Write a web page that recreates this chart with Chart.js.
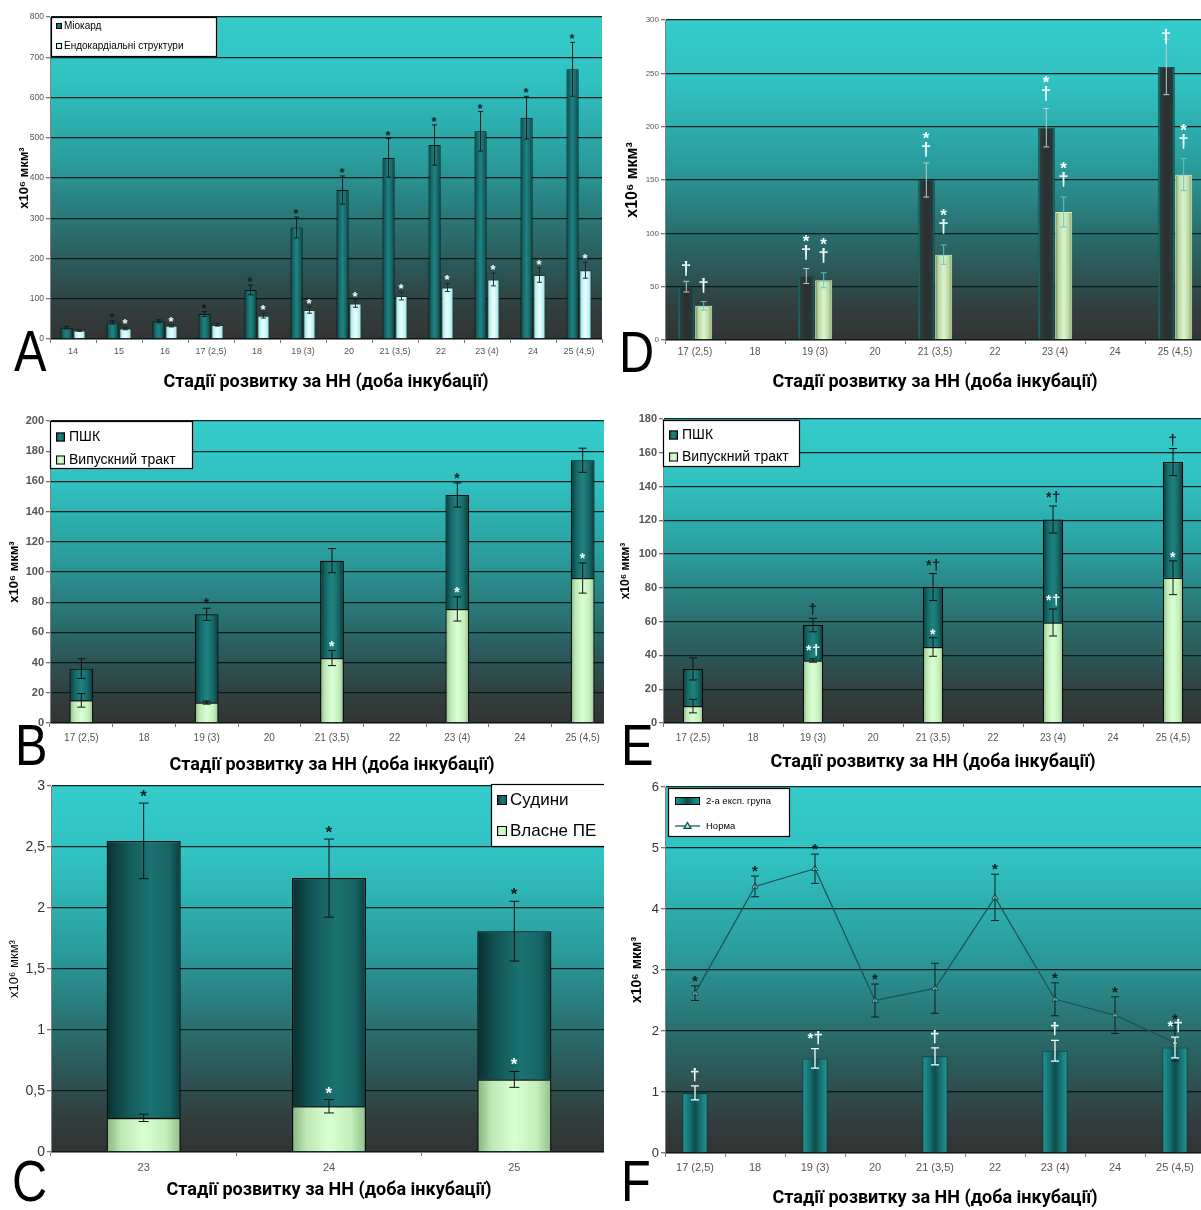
<!DOCTYPE html>
<html><head><meta charset="utf-8">
<script src="https://cdn.jsdelivr.net/npm/chart.js@4.4.1/dist/chart.umd.min.js"></script>
<style>
html,body{margin:0;padding:0;background:#fff;}
body{width:1201px;height:1210px;position:relative;overflow:hidden;}
.panel{position:absolute;overflow:hidden;}
.panel canvas{position:absolute;left:0;top:0;}
.letter{position:absolute;font-family:'Liberation Sans',Arial,sans-serif;font-size:58px;line-height:58px;color:#000;transform:scaleX(0.84);transform-origin:left top;}
</style></head><body>
<div class="panel" id="pA" style="left:0;top:0;width:604px;height:398px"><canvas id="cA" width="604" height="398"></canvas></div>
<div class="panel" id="pD" style="left:604px;top:0;width:597px;height:398px"><canvas id="cD" width="604" height="398"></canvas></div>
<div class="panel" id="pB" style="left:0;top:398px;width:604px;height:382px"><canvas id="cB" width="616" height="382"></canvas></div>
<div class="panel" id="pE" style="left:604px;top:398px;width:597px;height:382px"><canvas id="cE" width="604" height="382"></canvas></div>
<div class="panel" id="pC" style="left:0;top:770px;width:604px;height:440px"><canvas id="cC" width="610" height="440"></canvas></div>
<div class="panel" id="pF" style="left:604px;top:770px;width:597px;height:440px"><canvas id="cF" width="606" height="440"></canvas></div>
<div class="letter" style="left:14px;top:322px">A</div>
<div class="letter" style="left:619px;top:323px">D</div>
<div class="letter" style="left:15px;top:716px">B</div>
<div class="letter" style="left:621px;top:716px">E</div>
<div class="letter" style="left:12px;top:1152px">C</div>
<div class="letter" style="left:621px;top:1152px">F</div>
<script>
const NARROW = "'Liberation Sans Narrow','Liberation Sans',Arial,sans-serif";
const SANS = "'Liberation Sans',Arial,sans-serif";
const TITLE_FONT = "Roboto,'Liberation Sans',Arial,sans-serif";
const X_TITLE = 'Стадії розвитку за НН (доба інкубації)';
const Y_TITLE = 'x10⁶ мкм³';

// ---------- categories ----------
const catsA = ['14','15','16','17 (2,5)','18','19 (3)','20','21 (3,5)','22','23 (4)','24','25 (4,5)'];
const catsStage = ['17 (2,5)','18','19 (3)','20','21 (3,5)','22','23 (4)','24','25 (4,5)'];
const catsC = ['23','24','25'];
const yTicksC = ['0','0,5','1','1,5','2','2,5','3'];

// ---------- panel A ----------
const myocard     = [28, 41, 44, 62, 122, 277, 370, 450, 482, 516, 550, 670];
const myocardErr  = [3, 4, 4, 6, 12, 26, 35, 48, 50, 49, 53, 67];
const myocardMark = ['', '*', '', '*', '*', '*', '*', '*', '*', '*', '*', '*'];
const endo        = [21, 26, 33, 35, 58, 72, 88, 107, 128, 148, 159, 171];
const endoErr     = [2, 3, 3, 3, 6, 8, 9, 10, 10, 16, 18, 20];
const endoMark    = ['', '*', '*', '', '*', '*', '*', '*', '*', '*', '*', '*'];

// ---------- panel D ----------
const dDark      = [50, null, 60, null, 150, null, 199, null, 256];
const dDarkErr   = [5, null, 7, null, 16, null, 18, null, 26];
const dDarkMark  = ['†', '', '*†', '', '*†', '', '*†', '', '†'];
const dLight     = [32, null, 56, null, 80, null, 120, null, 155];
const dLightErr  = [4, null, 7, null, 9, null, 14, null, 15];
const dLightMark = ['†', '', '*†', '', '*†', '', '*†', '', '*†'];

// ---------- panel B ----------
const bOut      = [15, null, 13.5, null, 43, null, 75.5, null, 96];
const bOutErr   = [4.5, null, 1, null, 5, null, 8, null, 10];
const bOutMark  = ['', '', '', '', '*', '', '*', '', '*'];
const bPsk      = [21, null, 58.5, null, 64.5, null, 75.5, null, 78];
const bPskErr   = [6.5, null, 4, null, 8, null, 8, null, 8];
const bPskMark  = ['', '', '*', '', '', '', '*', '', ''];

// ---------- panel E ----------
const eOut      = [10, null, 37, null, 45, null, 59.5, null, 86];
const eOutErr   = [4, null, 1, null, 5.5, null, 8, null, 10];
const eOutMark  = ['', '', '*†', '', '*', '', '*†', '', '*'];
const ePsk      = [22, null, 21, null, 35.5, null, 61, null, 68.5];
const ePskErr   = [6.5, null, 4, null, 8, null, 8, null, 8];
const ePskMark  = ['', '', '†', '', '*†', '', '*†', '', '†'];

// ---------- panel C ----------
const cOwn       = [0.28, 0.375, 0.595];
const cOwnErr    = [0.03, 0.055, 0.065];
const cOwnMark   = ['', '*', '*'];
const cVessels   = [2.27, 1.87, 1.215];
const cVesselsErr= [0.31, 0.32, 0.245];
const cVesselsMark=['*', '*', '*'];

// ---------- panel F ----------
const fGroup     = [0.985, null, 1.55, null, 1.585, null, 1.675, null, 1.73];
const fGroupErr  = [0.115, null, 0.16, null, 0.14, null, 0.17, null, 0.17];
const fGroupMark = ['†', '', '*†', '', '†', '', '†', '', '*†'];
const fNorm      = [2.62, 4.37, 4.66, 2.50, 2.70, 4.19, 2.52, 2.26, 1.81];
const fNormErr   = [0.12, 0.17, 0.24, 0.27, 0.41, 0.38, 0.27, 0.30, 0.30];
const fNormMark  = ['*', '*', '*', '*', '', '*', '*', '*', '*'];

// ---------- styles ----------
const G_TEAL  = [[0,'#0a3a3a'],[0.25,'#176a6a'],[0.5,'#1f8282'],[0.75,'#176a6a'],[1,'#0a3a3a']];
const G_CYAN  = [[0,'#8fd6d6'],[0.3,'#cdf7f7'],[0.5,'#e6ffff'],[0.7,'#cdf7f7'],[1,'#8fd6d6']];
const G_GREEN = [[0,'#86b47e'],[0.2,'#bfe8b6'],[0.5,'#d8ffd2'],[0.8,'#c4eebc'],[1,'#8fbf88']];
const G_DDARK = [[0,'#1c9292'],[0.18,'#273a3a'],[0.5,'#2c2e2e'],[0.85,'#263a3a'],[1,'#1a7a7a']];
const G_DLIGHT= [[0,'#7f9e6e'],[0.2,'#b9d8a4'],[0.5,'#dcf5c8'],[0.8,'#b9d8a4'],[1,'#7f9e6e']];
const G_VESS  = [[0,'#0a3030'],[0.3,'#145a5a'],[0.6,'#1b7272'],[0.85,'#176464'],[1,'#0c3c3c']];
const G_FBAR  = [[0,'#1f9a9a'],[0.3,'#15706f'],[0.5,'#0f4c4c'],[0.7,'#15706f'],[1,'#1f9a9a']];
const BG_STOPS = [[0,'#35cccc'],[0.2,'#31c1c1'],[0.45,'#2a9c9c'],[0.7,'#2a6767'],[0.9,'#313f3f'],[1,'#333333']];

// ---------- plugins ----------
const bgPlugin = {
  id:'bgGrad',
  beforeDraw(chart){
    const {ctx, chartArea:a} = chart;
    const g = ctx.createLinearGradient(0,a.top,0,a.bottom);
    BG_STOPS.forEach(([o,c])=>g.addColorStop(o,c));
    ctx.save(); ctx.fillStyle=g; ctx.fillRect(a.left,a.top,a.right-a.left,a.bottom-a.top); ctx.restore();
  }
};
const barGradPlugin = {
  id:'barGrad',
  beforeDatasetsDraw(chart){
    const ctx = chart.ctx;
    chart.data.datasets.forEach((ds,di)=>{
      if(!ds.gradStops) return;
      const meta = chart.getDatasetMeta(di);
      meta.data.forEach(el=>{
        if(!el || !isFinite(el.x) || !isFinite(el.y) || !isFinite(el.width)) return;
        const g = ctx.createLinearGradient(el.x-el.width/2,0,el.x+el.width/2,0);
        ds.gradStops.forEach(([o,c])=>g.addColorStop(o,c));
        el.options = Object.assign({}, el.options, {backgroundColor:g, $shared:false});
      });
    });
  }
};
function glyphFont(c, sizes){ return 'bold ' + (c==='†'?sizes.dagger:sizes.star) + 'px ' + SANS; }
function drawMarks(ctx, x, yBottom, str, color, sizes, layout){
  const chars = [...str]; if(!chars.length) return;
  ctx.fillStyle = color; ctx.textAlign='left'; ctx.textBaseline='alphabetic';
  const ms = chars.map(c=>{ ctx.font = glyphFont(c,sizes); const m = ctx.measureText(c);
    return {c, font:ctx.font, w:m.width, l:m.actualBoundingBoxLeft, r:m.actualBoundingBoxRight, asc:m.actualBoundingBoxAscent, desc:m.actualBoundingBoxDescent}; });
  if(layout==='stack'){
    let yb = yBottom;
    for(let k=ms.length-1;k>=0;k--){
      const m = ms[k]; ctx.font = m.font;
      const gw = m.l + m.r;
      ctx.fillText(m.c, x - gw/2 + m.l, yb - m.desc);
      yb = yb - m.desc - m.asc - 3;
    }
  } else {
    const gap = 1;
    const widths = ms.map(m=>m.l+m.r);
    const total = widths.reduce((s,w)=>s+w,0) + gap*(ms.length-1);
    const maxH = Math.max(...ms.map(m=>m.asc+m.desc));
    const cy = yBottom - maxH/2;
    let xs = x - total/2;
    ms.forEach((m,k)=>{
      ctx.font = m.font;
      const h = m.asc + m.desc;
      const off = (m.c==='*' && ms.length>1) ? -2 : 0;
      ctx.fillText(m.c, xs + m.l, cy + h/2 - m.desc + off);
      xs += widths[k] + gap;
    });
  }
}
const errPlugin = {
  id:'errBars',
  afterDatasetsDraw(chart){
    const ctx = chart.ctx; const ys = chart.scales.y;
    const ppu = Math.abs(ys.getPixelForValue(0) - ys.getPixelForValue(1));
    const mk = chart.config.options.plugins.marks || {};
    chart.data.datasets.forEach((ds,di)=>{
      if(!ds.errors) return;
      const meta = chart.getDatasetMeta(di);
      meta.data.forEach((el,i)=>{
        const e = ds.errors[i];
        if(e==null || !el || !isFinite(el.y)) return;
        const d = e*ppu, x = el.x, cap = ds.errCap || 3;
        ctx.save();
        ctx.strokeStyle = ds.errColor || '#000'; ctx.lineWidth = ds.errWidth || 1;
        ctx.beginPath();
        ctx.moveTo(x, el.y-d); ctx.lineTo(x, el.y+d);
        ctx.moveTo(x-cap, el.y-d); ctx.lineTo(x+cap, el.y-d);
        ctx.moveTo(x-cap, el.y+d); ctx.lineTo(x+cap, el.y+d);
        ctx.stroke();
        ctx.restore();
      });
    });
    chart.data.datasets.forEach((ds,di)=>{
      if(!ds.marks) return;
      const meta = chart.getDatasetMeta(di);
      meta.data.forEach((el,i)=>{
        const s = ds.marks[i]; if(!s || !el || !isFinite(el.y)) return;
        const e = (ds.errors && ds.errors[i]) || 0;
        let gp = Array.isArray(ds.markGap) ? ds.markGap[i] : ds.markGap;
        if(gp == null) gp = (mk.gap != null ? mk.gap : 4);
        ctx.save();
        drawMarks(ctx, el.x + (ds.markDx||0), el.y - e*ppu - gp, s, ds.markColor||'#000', mk.sizes||{star:13,dagger:16}, ds.markLayout||'inline');
        ctx.restore();
      });
    });
  }
};
const legendPlugin = {
  id:'boxLegend',
  afterDraw(chart){
    const o = chart.config.options.plugins.boxLegend; if(!o) return;
    const a = chart.chartArea, ctx = chart.ctx;
    const x = a.left + o.x, y = a.top + o.y;
    ctx.save();
    ctx.fillStyle='#fff'; ctx.fillRect(x,y,o.w,o.h);
    ctx.strokeStyle='#000'; ctx.lineWidth=1.2; ctx.strokeRect(x+0.5,y+0.5,o.w-1,o.h-1);
    o.items.forEach(it=>{
      const ds = chart.data.datasets[it.ds];
      const cy = y + it.y;
      if(it.type==='line'){
        ctx.strokeStyle = ds.borderColor; ctx.lineWidth = 1.3;
        ctx.beginPath(); ctx.moveTo(x+o.sx, cy); ctx.lineTo(x+o.sx+o.sw, cy); ctx.stroke();
        const tx = x+o.sx+o.sw/2, r = 3.5;
        ctx.beginPath(); ctx.moveTo(tx, cy-r); ctx.lineTo(tx+r, cy+r*0.7); ctx.lineTo(tx-r, cy+r*0.7); ctx.closePath();
        ctx.fillStyle = ds.pointBackgroundColor; ctx.fill(); ctx.strokeStyle = ds.pointBorderColor; ctx.stroke();
      } else {
        const sx = x+o.sx, sy = cy - o.sh/2;
        const g = ctx.createLinearGradient(sx,0,sx+o.sw,0);
        (ds.gradStops||[[0,'#888'],[1,'#888']]).forEach(([p,c])=>g.addColorStop(p,c));
        ctx.fillStyle = g; ctx.fillRect(sx, sy, o.sw, o.sh);
        ctx.strokeStyle = '#000'; ctx.lineWidth = 1; ctx.strokeRect(sx+0.5, sy+0.5, o.sw-1, o.sh-1);
      }
      ctx.fillStyle = '#000'; ctx.font = (o.fontWeight||'normal') + ' ' + o.font + 'px ' + (o.family||SANS);
      ctx.textAlign='left'; ctx.textBaseline='middle';
      ctx.fillText(ds.label, x + o.tx, cy + 0.5);
    });
    ctx.restore();
  }
};

// ---------- scale builders ----------
function yScale(o){
  return {
    stacked: !!o.stacked, min:0, max:o.max,
    ticks:{stepSize:o.step, color:o.tickColor||'#555', font:{family:NARROW, size:o.tick, weight:o.tickWeight||'normal'}, padding:2,
           callback: o.labels ? ((v,i)=>o.labels[i]) : (v=>v)},
    grid:{color:'rgba(5,25,25,0.95)', lineWidth:1.3, drawTicks:true, tickLength:4, tickColor:'#777'},
    border:{display:true, color:'#808080', width:1},
    title:{display:true, text:Y_TITLE, color:'#000', font:{family:SANS, size:o.tsize, weight:o.tweight||'bold'}, padding:{top:o.tpad, bottom:0}},
    afterFit(s){ s.width = o.width; }
  };
}
function xScale(o){
  return {
    type:'category', offset:true, stacked: !!o.stacked,
    ticks:{color:o.tickColor||'#555', font:{family:NARROW, size:o.tick}, padding:o.tp, maxRotation:0, autoSkip:false},
    grid:{offset:true, drawOnChartArea:false, drawTicks:true, tickLength:4, tickColor:'#777'},
    border:{display:true, color:'#808080', width:1},
    title:{display:true, text:X_TITLE, color:'#000', font:{family:TITLE_FONT, size:18, weight:'bold'}, padding:{top:0, bottom:o.bp}},
    afterFit(s){ s.height = o.height; }
  };
}
function baseOptions(pad, extra){
  return Object.assign({
    responsive:false, animation:false, devicePixelRatio:1,
    layout:{padding:{top:pad.top, right:pad.right, left:0, bottom:0}},
    plugins:{legend:{display:false}, tooltip:{enabled:false}}
  }, extra||{});
}
const PLUGINS = [bgPlugin, barGradPlugin, errPlugin, legendPlugin];

// ---------- A ----------
new Chart(document.getElementById('cA'), {
  type:'bar',
  data:{labels:catsA, datasets:[
    {label:'Міокард', data:myocard, errors:myocardErr, marks:myocardMark, markColor:'#0b1f1f', errColor:'#0b1f1f', errCap:2.5,
     gradStops:G_TEAL, borderColor:'#061414', borderWidth:1, categoryPercentage:0.56, barPercentage:0.95},
    {label:'Ендокардіальні структури', data:endo, errors:endoErr, marks:endoMark, markColor:'#f2ffff', errColor:'#1a2a2a', errCap:2.5,
     gradStops:G_CYAN, borderColor:'#1a3a3a', borderWidth:1, categoryPercentage:0.56, barPercentage:0.95}
  ]},
  options: (()=>{ const op = baseOptions({top:17,right:2});
    op.scales = {x:xScale({tick:9, tp:3.6, bp:4.6, height:59}), y:yScale({max:800, step:100, tick:8.5, tsize:13, tpad:17, width:50})};
    op.plugins.marks = {gap:3, sizes:{star:13, dagger:16}};
    op.plugins.boxLegend = {x:1, y:0, w:166, h:40, font:10, sx:5, sw:6, sh:6, tx:13, items:[{ds:0,y:9},{ds:1,y:29}]};
    return op; })(),
  plugins:PLUGINS
});

// ---------- D ----------
new Chart(document.getElementById('cD'), {
  type:'bar',
  data:{labels:catsStage, datasets:[
    {label:'ПШК', data:dDark, errors:dDarkErr, marks:dDarkMark, markColor:'#f4ffff', markLayout:'stack', markGap:[5,0,9,0,6,0,8,0,-5], errColor:'#b8d0d0', errCap:3,
     gradStops:G_DDARK, borderColor:'#174f4f', borderWidth:1, categoryPercentage:0.58, barPercentage:0.98},
    {label:'Випускний тракт', data:dLight, errors:dLightErr, marks:dLightMark, markColor:'#f4ffff', markLayout:'stack', markGap:[9,0,10,0,11,0,10,0,10], errColor:'#5cc8c8', errCap:3,
     gradStops:G_DLIGHT, borderColor:'#d9efc9', borderWidth:1, categoryPercentage:0.58, barPercentage:0.98}
  ]},
  options: (()=>{ const op = baseOptions({top:20,right:3});
    op.scales = {x:xScale({tick:10, tp:2, bp:4.6, height:58}), y:yScale({max:300, step:50, tick:8, tsize:16, tpad:19, width:61})};
    op.plugins.marks = {gap:8, sizes:{star:17, dagger:19}};
    return op; })(),
  plugins:PLUGINS
});

// ---------- B ----------
new Chart(document.getElementById('cB'), {
  type:'bar',
  data:{labels:catsStage, datasets:[
    {label:'Випускний тракт', data:bOut, errors:bOutErr, marks:bOutMark, markColor:'#f2ffff', errColor:'#101010', errCap:4,
     gradStops:G_GREEN, borderColor:'#0a0a0a', borderWidth:1.2, barPercentage:0.38, categoryPercentage:1},
    {label:'ПШК', data:bPsk, errors:bPskErr, marks:bPskMark, markColor:'#0b1f1f', errColor:'#101010', errCap:4,
     gradStops:G_TEAL, borderColor:'#0a0a0a', borderWidth:1.2, barPercentage:0.38, categoryPercentage:1}
  ]},
  options: (()=>{ const op = baseOptions({top:23,right:2});
    op.scales = {x:xScale({tick:10, tp:5, bp:3.6, height:57, stacked:true}), y:yScale({max:200, step:20, tick:11, tickWeight:'bold', tsize:13, tpad:7, width:50, stacked:true})};
    op.plugins.marks = {gap:4, sizes:{star:14, dagger:16}};
    op.plugins.boxLegend = {x:0, y:0, w:143, h:48, font:14, sx:6, sw:9, sh:9, tx:19, items:[{ds:1,y:16},{ds:0,y:39}]};
    return op; })(),
  plugins:PLUGINS
});

// ---------- E ----------
new Chart(document.getElementById('cE'), {
  type:'bar',
  data:{labels:catsStage, datasets:[
    {label:'Випускний тракт', data:eOut, errors:eOutErr, marks:eOutMark, markColor:'#f2ffff', errColor:'#101010', errCap:4,
     gradStops:G_GREEN, borderColor:'#0a0a0a', borderWidth:1.2, barPercentage:0.34, categoryPercentage:1},
    {label:'ПШК', data:ePsk, errors:ePskErr, marks:ePskMark, markColor:'#0b1f1f', errColor:'#101010', errCap:4,
     gradStops:G_TEAL, borderColor:'#0a0a0a', borderWidth:1.2, barPercentage:0.34, categoryPercentage:1}
  ]},
  options: (()=>{ const op = baseOptions({top:21,right:5});
    op.scales = {x:xScale({tick:10, tp:5, bp:6.6, height:57, stacked:true}), y:yScale({max:180, step:20, tick:11, tickWeight:'bold', tsize:12, tpad:14, width:59, stacked:true})};
    op.plugins.marks = {gap:3, sizes:{star:14, dagger:15}};
    op.plugins.boxLegend = {x:0, y:1, w:137, h:47, font:14, sx:6, sw:9, sh:9, tx:19, items:[{ds:1,y:15},{ds:0,y:37}]};
    return op; })(),
  plugins:PLUGINS
});

// ---------- C ----------
new Chart(document.getElementById('cC'), {
  type:'bar',
  data:{labels:catsC, datasets:[
    {label:'Власне ПЕ', data:cOwn, errors:cOwnErr, marks:cOwnMark, markColor:'#f2ffff', errColor:'#101010', errCap:5,
     gradStops:G_GREEN, borderColor:'#0a0a0a', borderWidth:1.3, barPercentage:0.4, categoryPercentage:1},
    {label:'Судини', data:cVessels, errors:cVesselsErr, marks:cVesselsMark, markColor:'#0b1f1f', errColor:'#101010', errCap:5,
     gradStops:G_VESS, borderColor:'#0a0a0a', borderWidth:1.3, barPercentage:0.4, categoryPercentage:1}
  ]},
  options: (()=>{ const op = baseOptions({top:16,right:3});
    op.scales = {x:xScale({tick:11, tp:5.4, bp:8.6, height:58, stacked:true}), y:yScale({max:3, step:0.5, labels:yTicksC, tick:14, tickColor:'#333', tsize:13, tweight:'normal', tpad:7, width:51, stacked:true})};
    op.plugins.marks = {gap:6, sizes:{star:17, dagger:18}};
    op.plugins.boxLegend = {x:440, y:-2, w:130, h:63, font:17, sx:6, sw:10, sh:10, tx:19, items:[{ds:1,y:16},{ds:0,y:47}]};
    return op; })(),
  plugins:PLUGINS
});

// ---------- F ----------
new Chart(document.getElementById('cF'), {
  type:'bar',
  data:{labels:catsStage, datasets:[
    {type:'line', label:'Норма', data:fNorm, errors:fNormErr, marks:fNormMark, markColor:'#0b1f1f', errColor:'#0d2020', errCap:4,
     borderColor:'#1b5656', borderWidth:1.3, pointStyle:'triangle', pointRadius:3.5, pointBackgroundColor:'#a8eeee', pointBorderColor:'#174c4c',
     pointBorderWidth:1, tension:0, fill:false, order:0},
    {label:'2-а експ. група', data:fGroup, errors:fGroupErr, marks:fGroupMark, markColor:'#f2ffff', errColor:'#f2ffff', errCap:4, errWidth:1.3,
     gradStops:G_FBAR, borderColor:'#0e3a3a', borderWidth:1, barPercentage:0.42, categoryPercentage:1, order:1}
  ]},
  options: (()=>{ const op = baseOptions({top:17,right:3});
    op.scales = {x:xScale({tick:11, tp:4.4, bp:0.6, height:57}), y:yScale({max:6, step:1, tick:13, tickColor:'#333', tsize:14, tpad:25, width:61})};
    op.plugins.marks = {gap:4, sizes:{star:15, dagger:17}};
    op.plugins.boxLegend = {x:3, y:1, w:122, h:49, font:9.5, sx:7, sw:25, sh:8, tx:38, items:[{ds:1,y:13},{ds:0,y:38,type:'line'}]};
    return op; })(),
  plugins:PLUGINS
});
</script>
</body></html>
